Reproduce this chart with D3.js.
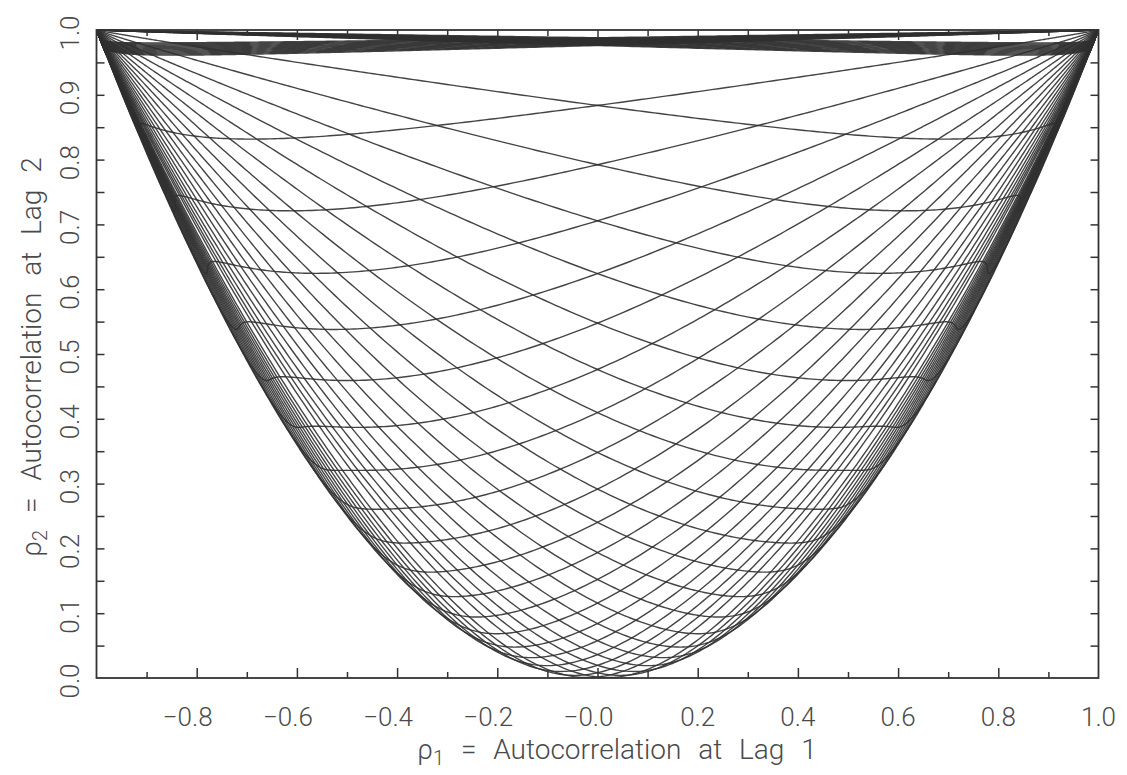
<!DOCTYPE html>
<html>
<head>
<meta charset="utf-8">
<script src="https://cdn.jsdelivr.net/npm/d3@7/dist/d3.min.js"></script>
<style>
  html, body { margin:0; padding:0; background:#ffffff; }
  svg { display:block; }
  .lbl { font-family: "Roboto", "Liberation Sans", sans-serif; font-weight:300; fill:#4a4a4a; }
</style>
</head>
<body>
<svg id="chart" width="1127" height="775"></svg>
<script>
// ---------------- values ----------------
const lag1Ticks       = [-0.8, -0.6, -0.4, -0.2, 0.0, 0.2, 0.4, 0.6, 0.8, 1.0];
const lag1TickLabels  = ["\u22120.8","\u22120.6","\u22120.4","\u22120.2","\u22120.0","0.2","0.4","0.6","0.8","1.0"];
const lag1MinorTicks  = [-0.9, -0.7, -0.5, -0.3, -0.1, 0.1, 0.3, 0.5, 0.7, 0.9];
const lag2Ticks       = [0.0, 0.1, 0.2, 0.3, 0.4, 0.5, 0.6, 0.7, 0.8, 0.9, 1.0];
const lag2TickLabels  = ["0.0","0.1","0.2","0.3","0.4","0.5","0.6","0.7","0.8","0.9","1.0"];
const lag2MinorTicks  = [0.05, 0.15, 0.25, 0.35, 0.45, 0.55, 0.65, 0.75, 0.85, 0.95];

// lag-1 autocorrelation at which each curve touches the AR(1) boundary (rho2 = rho1^2)
const touchLeft  = [-0.994, -0.9935, -0.993, -0.9925, -0.992, -0.9915, -0.991, -0.9905, -0.99, -0.9895, -0.989, -0.9885, -0.988,
                    -0.94, -0.89, -0.84, -0.79, -0.74, -0.69, -0.64, -0.59, -0.54,
                    -0.49, -0.44, -0.39, -0.34, -0.29, -0.24, -0.19, -0.14, -0.09, -0.04];
const touchRight = [0.04, 0.09, 0.14, 0.19, 0.24, 0.29, 0.34, 0.39, 0.44, 0.49,
                    0.54, 0.59, 0.64, 0.69, 0.74, 0.79, 0.84, 0.89, 0.94,
                    0.988, 0.9885, 0.989, 0.9895, 0.99, 0.9905, 0.991, 0.9915, 0.992, 0.9925, 0.993, 0.9935, 0.994];

const xTitle = ["\u03C1", "1", " = Autocorrelation at Lag 1"];
const yTitle = ["\u03C1", "2", " = Autocorrelation at Lag 2"];

// ---------------- drawing ----------------
const svg = d3.select("#chart");
const x = d3.scaleLinear().domain([-1, 1]).range([96.5, 1098.5]);
const y = d3.scaleLinear().domain([0, 1]).range([678, 30]);

// relative weight of a component with lag-1 coefficient c in the two-component mixture
function weight(c) {
  const u = -Math.log(1 - c * c);
  return Math.exp(1.1 * u + 1.075 * (1 - Math.exp(-2 * u)));
}
const sweep = d3.range(-7, 7.0001, 0.01).map(t => Math.tanh(t));

function curve(a) {
  const ha = weight(a);
  const pts = [[-1, 1]];
  sweep.forEach(b => {
    const hb = weight(b);
    const w = ha / (ha + hb);
    pts.push([w * a + (1 - w) * b, w * a * a + (1 - w) * b * b]);
  });
  pts.push([1, 1]);
  return pts;
}

svg.append("defs").append("clipPath").attr("id", "plotclip")
  .append("rect").attr("x", x(-1)).attr("y", y(1) - 1)
  .attr("width", x(1) - x(-1)).attr("height", y(0) - y(1) + 1);

const line = d3.line().x(d => x(d[0])).y(d => y(d[1]));
const allTouch = touchLeft.concat(touchRight);
svg.append("g").attr("clip-path", "url(#plotclip)")
  .selectAll("path").data(allTouch).join("path")
  .attr("d", a => line(curve(a)))
  .attr("fill", "none")
  .attr("stroke", "#303030")
  .attr("stroke-width", 1.4)
  .attr("stroke-opacity", 0.9);

// frame
svg.append("rect")
  .attr("x", x(-1)).attr("y", y(1))
  .attr("width", x(1) - x(-1)).attr("height", y(0) - y(1))
  .attr("fill", "none").attr("stroke", "#333").attr("stroke-width", 1.8);

// axes via d3 axis generators (ticks pointing inward)
const fmtNone = () => "";
const bottomMajor = d3.axisBottom(x).tickValues(lag1Ticks.filter(v => v < 1)).tickSize(-10).tickFormat(fmtNone);
const bottomMinor = d3.axisBottom(x).tickValues(lag1MinorTicks).tickSize(-6).tickFormat(fmtNone);
const topMajor = d3.axisTop(x).tickValues(lag1Ticks.filter(v => v < 1)).tickSize(-10).tickFormat(fmtNone);
const topMinor = d3.axisTop(x).tickValues(lag1MinorTicks).tickSize(-6).tickFormat(fmtNone);
const yTickVals = lag2Ticks.slice(1, -1).concat(lag2MinorTicks);
const leftT = d3.axisLeft(y).tickValues(yTickVals).tickSize(-8).tickFormat(fmtNone);
const rightT = d3.axisRight(y).tickValues(yTickVals).tickSize(-8).tickFormat(fmtNone);

function styleAxis(g) {
  g.select(".domain").remove();
  g.selectAll("line").attr("stroke", "#333").attr("stroke-width", 1.5);
}
svg.append("g").attr("transform", `translate(0,${y(0)})`).call(bottomMajor).call(styleAxis);
svg.append("g").attr("transform", `translate(0,${y(0)})`).call(bottomMinor).call(styleAxis);
svg.append("g").attr("transform", `translate(0,${y(1)})`).call(topMajor).call(styleAxis);
svg.append("g").attr("transform", `translate(0,${y(1)})`).call(topMinor).call(styleAxis);
svg.append("g").attr("transform", `translate(${x(-1)},0)`).call(leftT).call(styleAxis);
svg.append("g").attr("transform", `translate(${x(1)},0)`).call(rightT).call(styleAxis);

// x tick labels
svg.append("g").selectAll("text").data(lag1Ticks).join("text")
  .attr("class", "lbl")
  .attr("x", (d, i) => x(d) - (lag1TickLabels[i].startsWith("\u2212") ? 9 : 0))
  .attr("y", 726)
  .attr("text-anchor", "middle")
  .attr("font-size", 26)
  .text((d, i) => lag1TickLabels[i]);

// y tick labels (rotated)
svg.append("g").selectAll("text").data(lag2Ticks).join("text")
  .attr("class", "lbl")
  .attr("transform", d => `translate(79,${y(d) + 3}) rotate(-90)`)
  .attr("text-anchor", "middle")
  .attr("font-size", 26)
  .text((d, i) => lag2TickLabels[i]);

// axis titles
function title(g, parts, size) {
  const t = g.append("text").attr("class", "lbl").attr("text-anchor", "middle")
    .attr("font-size", size).attr("word-spacing", 10);
  t.append("tspan").text(parts[0]);
  t.append("tspan").attr("font-size", size * 0.72).attr("dy", 6).text(parts[1]);
  t.append("tspan").attr("dy", -6).text(parts[2]);
  return t;
}
title(svg.append("g").attr("transform", "translate(617,759)"), xTitle, 28);
title(svg.append("g").attr("transform", "translate(41,357) rotate(-90)"), yTitle, 28);
</script>
</body>
</html>
